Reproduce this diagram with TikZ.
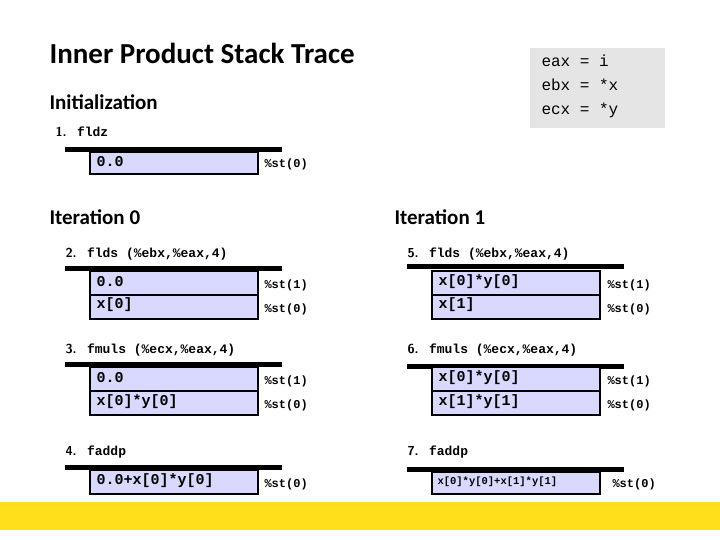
\documentclass[tikz,border=0pt]{standalone}
\usepackage{fontspec}
\setmainfont{Carlito}
\newfontfamily\cour{Liberation Mono}
\begin{document}
\begin{tikzpicture}[x=1pt,y=-1pt,
  bar/.style={line width=5pt},
  cell/.style={draw=black,line width=2.2pt,fill=blue!15!white},
  celltxt/.style={anchor=west,font=\cour\bfseries\fontsize{15}{15}\selectfont},
  sttxt/.style={anchor=west,font=\cour\bfseries\fontsize{12}{12}\selectfont},
  instr/.style={anchor=west,font=\cour\bfseries\fontsize{13}{13}\selectfont},
  head/.style={anchor=west,font=\bfseries\fontsize{21}{21}\selectfont}]
\useasboundingbox (0,0) rectangle (720,540);
\fill[white] (0,0) rectangle (720,540);
\fill[yellow!80!orange!90!white] (0,502) rectangle (720,530);
\node[anchor=west,font=\bfseries\fontsize{29}{29}\selectfont] (title) at (46,53) {Inner Product Stack Trace};
\node[head] (init) at (46,102) {Initialization};
\node[head] (it0) at (46,217) {Iteration 0};
\node[head] (it1) at (391,217) {Iteration 1};
\fill[gray!20] (530,48) rectangle (665,128);
\node[anchor=north west,font=\cour\fontsize{16}{24}\selectfont,align=left] (regs) at (538,51) {eax = i\\ebx = *x\\ecx = *y};
% macro-ish via foreach not needed; draw explicitly
\newcommand\instrl[3]{\node[instr] at (#1,#2) {{\sffamily\fontsize{12}{12}\selectfont #3}};}
% stack 1
\node[instr] (i1) at (52,132) {\textsf{1.} fldz};
\draw[bar] (65,150) -- (282,150);
\draw[cell] (90,152) rectangle (258,174);
\node[celltxt] (s1a) at (93,162) {0.0};
\node[sttxt] (l1a) at (261,164) {\%st(0)};
% stack 2
\node[instr] (i2) at (62,254) {\textsf{2.} flds (\%ebx,\%eax,4)};
\draw[bar] (65,268) -- (282,268);
\draw[cell] (90,271) rectangle (258,295);
\draw[cell] (90,295) rectangle (258,319);
\node[celltxt] (s2a) at (93,282) {0.0};
\node[celltxt] (s2b) at (93,305) {x[0]};
\node[sttxt] (l2a) at (261,285) {\%st(1)};
\node[sttxt] (l2b) at (261,309) {\%st(0)};
% stack 3
\node[instr] (i3) at (62,350) {\textsf{3.} fmuls (\%ecx,\%eax,4)};
\draw[bar] (65,364) -- (282,364);
\draw[cell] (90,367) rectangle (258,391);
\draw[cell] (90,391) rectangle (258,415);
\node[celltxt] (s3a) at (93,378) {0.0};
\node[celltxt] (s3b) at (93,402) {x[0]*y[0]};
\node[sttxt] (l3a) at (261,381) {\%st(1)};
\node[sttxt] (l3b) at (261,405) {\%st(0)};
% stack 4
\node[instr] (i4) at (62,452) {\textsf{4.} faddp};
\draw[bar] (65,467) -- (282,467);
\draw[cell] (90,470) rectangle (258,494);
\node[celltxt] (s4a) at (93,481) {0.0+x[0]*y[0]};
\node[sttxt] (l4a) at (261,484) {\%st(0)};
% stack 5
\node[instr] (i5) at (404,254) {\textsf{5.} flds (\%ebx,\%eax,4)};
\draw[bar] (407,266) -- (624,266);
\draw[cell] (432,271) rectangle (600,295);
\draw[cell] (432,295) rectangle (600,319);
\node[celltxt] (s5a) at (435,282) {x[0]*y[0]};
\node[celltxt] (s5b) at (435,305) {x[1]};
\node[sttxt] (l5a) at (604,285) {\%st(1)};
\node[sttxt] (l5b) at (604,309) {\%st(0)};
% stack 6
\node[instr] (i6) at (404,350) {\textsf{6.} fmuls (\%ecx,\%eax,4)};
\draw[bar] (407,366) -- (624,366);
\draw[cell] (432,367) rectangle (600,391);
\draw[cell] (432,391) rectangle (600,415);
\node[celltxt] (s6a) at (435,378) {x[0]*y[0]};
\node[celltxt] (s6b) at (435,402) {x[1]*y[1]};
\node[sttxt] (l6a) at (604,381) {\%st(1)};
\node[sttxt] (l6b) at (604,405) {\%st(0)};
% stack 7
\node[instr] (i7) at (404,452) {\textsf{7.} faddp};
\draw[bar] (407,469) -- (624,469);
\draw[cell] (432,472) rectangle (600,494);
\node[anchor=west,font=\cour\bfseries\fontsize{10.5}{10.5}\selectfont] (s7a) at (434,482) {x[0]*y[0]+x[1]*y[1]};
\node[sttxt] (l7a) at (609,484) {\%st(0)};
\end{tikzpicture}
\end{document}
